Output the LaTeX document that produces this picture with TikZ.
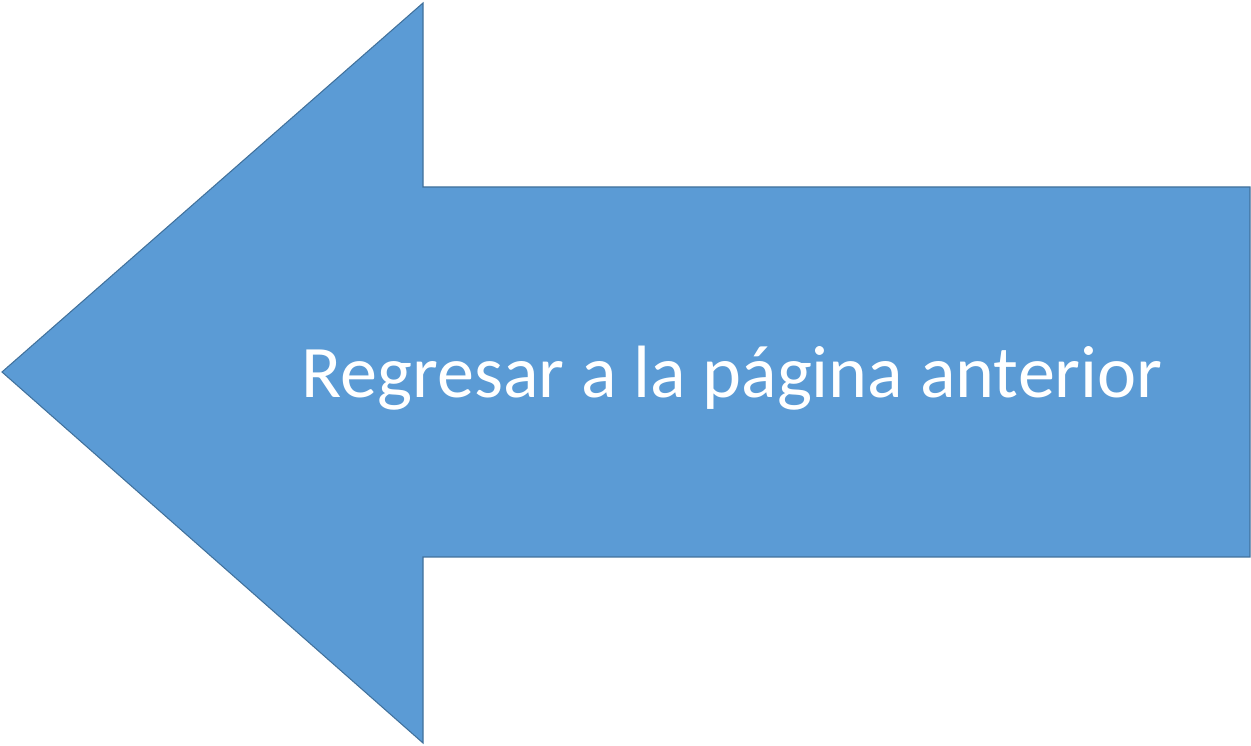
\documentclass[tikz,border=0pt]{standalone}
\usepackage{fontspec}
\setmainfont{Carlito}
\usepackage{xcolor}
\usepackage{tikz}
\definecolor{arrowfill}{HTML}{5B9BD5}
\definecolor{arrowline}{HTML}{41719C}

\begin{document}
\begin{tikzpicture}[
  x=0.02cm,
  y=0.02cm,
  back arrow/.style={
    fill=arrowfill,
    draw=arrowline,
    line width=0.6pt,
    line join=miter
  },
  label text/.style={
    text=white,
    font=\fontsize{42.2}{50}\selectfont,
    inner sep=0pt,
    anchor=base
  }
]
\useasboundingbox (0,0) rectangle (1251,746);
\draw[back arrow] (2,374) -- (423,743) -- (423,559) -- (1250,559)
  -- (1250,189) -- (423,189) -- (423,3) -- cycle;
\node[label text] (back) at (732,348) {Regresar a la página anterior};
\end{tikzpicture}
\end{document}
